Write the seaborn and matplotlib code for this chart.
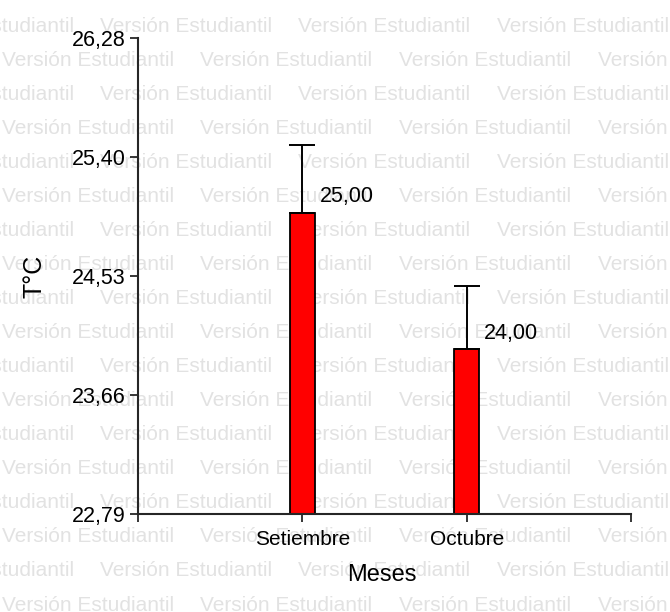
import numpy as np
import pandas as pd
import seaborn as sns
import matplotlib
matplotlib.use("Agg")
import matplotlib.pyplot as plt

# datos
meses = ["Setiembre", "Octubre"]
medias = [25.00, 24.00]
errores = [0.50, 0.46]
etiquetas = ["25,00", "24,00"]
y_ticklabels = ["22,79", "23,66", "24,53", "25,40", "26,28"]
y_min, y_max = 22.79, 26.28

df = pd.DataFrame({"Meses": meses, "T": medias})
orden = [""] + meses + [" "]

sns.set_theme(style="ticks")
plt.rcParams["font.family"] = ["Liberation Sans", "DejaVu Sans"]
plt.rcParams["axes.linewidth"] = 1.5

fig = plt.figure(figsize=(6.7, 6.12), dpi=100)
fig.patch.set_facecolor("white")
ax = fig.add_axes([138 / 670, 1 - 514 / 612, 493 / 670, 475.7 / 612])
ax.set_facecolor("none")

# marca de agua
periodo = 198.5
for k in range(-1, 18):
    base = 31.5 + 34.06 * k
    fase = 100 if k % 2 == 0 else 2
    x0 = fase - periodo
    while x0 < 670:
        fig.text(x0 / 670, 1 - base / 612, "Versión Estudiantil", fontsize=15,
                 color="#e2e2e2", ha="left", va="baseline", zorder=-10)
        x0 += periodo

sns.barplot(data=df, x="Meses", y="T", order=orden, color="#ff0000",
            saturation=1, width=0.155, edgecolor="black", linewidth=1.3,
            errorbar=None, ax=ax)

pos = [orden.index(m) for m in meses]
ax.errorbar(pos, medias, yerr=[np.zeros(len(errores)), errores], fmt="none",
            ecolor="black", elinewidth=1.4, capsize=9.7, capthick=1.4, zorder=3)

for p, v, lab in zip(pos, medias, etiquetas):
    ax.annotate(lab, (p, v), xytext=(12.5, 7.5), textcoords="offset points",
                ha="left", va="baseline", fontsize=15.5, color="black")

ax.set_xlim(0, 3)
ax.set_ylim(y_min, y_max)
ax.set_yticks(np.linspace(y_min, y_max, len(y_ticklabels)))
ax.set_yticklabels(y_ticklabels)
sns.despine(ax=ax)

ax.tick_params(axis="y", length=5.5, width=1.1, pad=3.5, labelsize=15.5, colors="black")
ax.tick_params(axis="x", length=5.8, width=1.1, pad=6, labelsize=15, colors="black")

ax.set_ylabel("T°C", fontsize=18, va="center", color="black")
ax.yaxis.set_label_coords(-0.209, 0.5)
ax.set_xlabel("Meses", fontsize=17, va="center", color="black")
ax.xaxis.set_label_coords(0.495, -0.128)

fig.savefig("out.png", dpi=100)
